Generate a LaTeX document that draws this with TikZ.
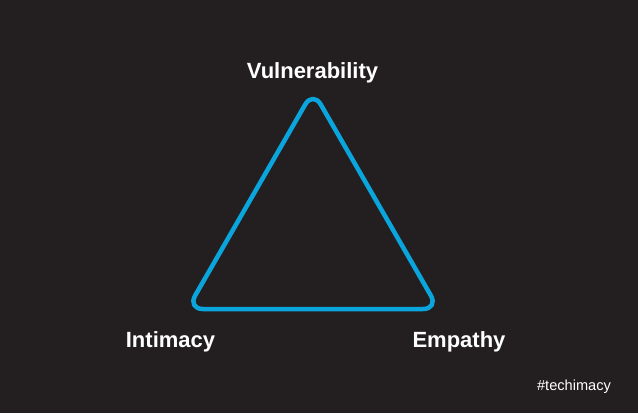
\documentclass[tikz,border=0pt]{standalone}
\usepackage{fontspec}
\setmainfont{Liberation Sans}
\definecolor{bg}{HTML}{231F20}
\definecolor{tri}{HTML}{0BA5DE}
\begin{document}
\begin{tikzpicture}[x=1pt,y=-1pt,
  lbl/.style={text=white,font=\bfseries\fontsize{22}{26}\selectfont,anchor=base,inner sep=0pt},
  tag/.style={text=white,font=\fontsize{14.6}{17}\selectfont,anchor=base,inner sep=0pt}]
\fill[bg] (0,0) rectangle (638,413);
\useasboundingbox (0,0) rectangle (638,413);
\coordinate (A) at (313,91);
\coordinate (B) at (187.4,309);
\coordinate (C) at (438.6,309);
\draw[tri,line width=4.5pt,rounded corners=15.6pt,line join=round] (A) -- (B) -- (C) -- cycle;
\node[lbl] (v) at (312.5,78) {Vulnerability};
\node[lbl] (i) at (170.5,347) {Intimacy};
\node[lbl] (e) at (459,347) {Empathy};
\node[tag] (t) at (574,390) {\#techimacy};
\end{tikzpicture}
\end{document}
